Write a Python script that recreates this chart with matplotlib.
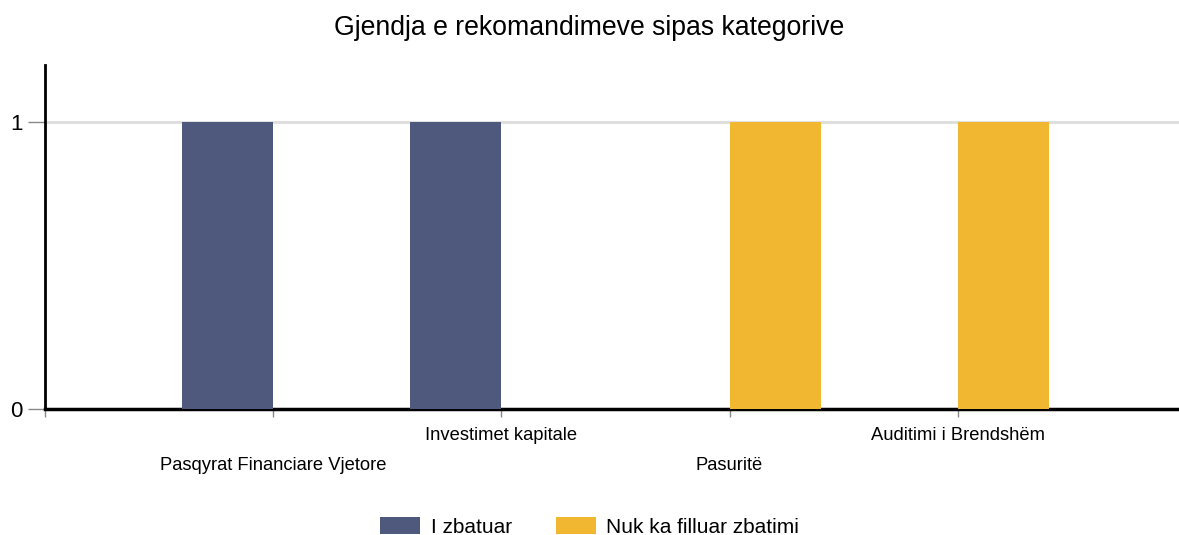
import numpy as np
import matplotlib
matplotlib.use("Agg")
from matplotlib import pyplot as plt
from matplotlib import transforms

plt.rcParams['font.family'] = ['Liberation Sans', 'DejaVu Sans']

categories = ["Pasqyrat Financiare Vjetore", "Investimet kapitale", "Pasuritë", "Auditimi i Brendshëm"]
series_names = ["I zbatuar", "Nuk ka filluar zbatimi"]
zbatuar = [1, 1, 0, 0]
nuk_filluar = [0, 0, 1, 1]
colors = ["#4F587D", "#F2B731"]

fig = plt.figure(figsize=(11.79, 5.35), dpi=100)
ax = fig.add_axes([45/1179, 126/535, 1 - 45/1179, 344/535])

x = np.arange(len(categories))
w = 0.4
ax.bar(x - w/2, zbatuar, w, color=colors[0], label=series_names[0], zorder=3)
ax.bar(x + w/2, nuk_filluar, w, color=colors[1], label=series_names[1], zorder=3)

ax.set_xlim(-1, 3.97)
ax.set_ylim(0, 1.2)

# y axis
ax.set_yticks([0, 1])
ax.set_yticklabels(["0", "1"], fontsize=16)
ax.tick_params(axis='y', length=12, width=1, color='#888888', pad=4)
ax.axhline(1, color='#dddddd', lw=2, zorder=1)

# x axis: ticks with staggered labels
ax.set_xticks(np.arange(-1, len(categories)))
ax.set_xticklabels([])
ax.tick_params(axis='x', length=6, width=1, color='#888888')
trans = transforms.blended_transform_factory(ax.transData, ax.transAxes)
for i, lab in enumerate(categories):
    yy = -0.163 if i % 2 == 0 else -0.077
    ax.text(i, yy, lab, transform=trans, ha='center', va='center', fontsize=13.2)

for s in ['top', 'right']:
    ax.spines[s].set_visible(False)
ax.spines['left'].set_linewidth(2)
ax.spines['bottom'].set_linewidth(2.5)
ax.spines['left'].set_color('black')
ax.spines['bottom'].set_color('black')

fig.text(0.5, 1 - 28/535, "Gjendja e rekomandimeve sipas kategorive",
         ha='center', va='center', fontsize=19.2)

fig.legend(loc='center', ncol=2, frameon=False, fontsize=15,
           bbox_to_anchor=(0.5, 1 - 527/535), handlelength=1.92, handleheight=0.87,
           columnspacing=2.1, handletextpad=0.5, borderpad=0)

fig.savefig("out.png", dpi=100)
